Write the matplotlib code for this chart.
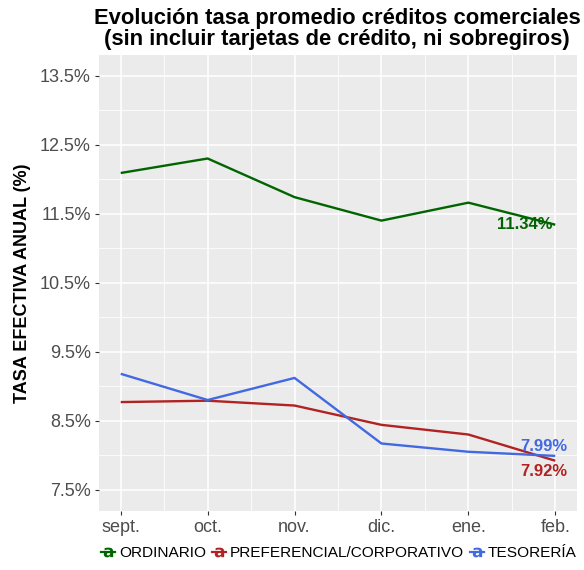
import matplotlib
matplotlib.use("Agg")
import matplotlib.pyplot as plt
from matplotlib.lines import Line2D
from matplotlib.ticker import FixedLocator

plt.rcParams['font.family'] = ['Liberation Sans', 'DejaVu Sans']

months = ["sept.", "oct.", "nov.", "dic.", "ene.", "feb."]
ordinario = [12.09, 12.30, 11.74, 11.40, 11.66, 11.34]
preferencial = [8.77, 8.79, 8.72, 8.44, 8.30, 7.92]
tesoreria = [9.18, 8.80, 9.12, 8.17, 8.05, 7.99]
series_names = ["ORDINARIO", "PREFERENCIAL/CORPORATIVO", "TESORERÍA"]
colors = ["#006400", "#B22222", "#4169E1"]
yticks = [7.5, 8.5, 9.5, 10.5, 11.5, 12.5, 13.5]

fig = plt.figure(figsize=(5.84, 5.70), dpi=100)
ax = fig.add_axes([99/584, 1-510.7/570, (577-99)/584, (510.7-55)/570])
ax.set_facecolor("#EBEBEB")
for s in ax.spines.values():
    s.set_visible(False)

x = list(range(len(months)))
data = [ordinario, preferencial, tesoreria]
for vals, c in zip(data, colors):
    ax.plot(x, vals, color=c, lw=1.7, solid_capstyle='butt', zorder=3)

ax.set_xlim(-0.25, 5.25)
ax.set_ylim(7.196, 13.80)
ax.set_xticks(x)
ax.set_xticklabels(months)
ax.set_yticks(yticks)
ax.set_yticklabels([f"{v:.1f}%" for v in yticks])
ax.xaxis.set_minor_locator(FixedLocator([i + 0.5 for i in range(-1, 6)]))
ax.yaxis.set_minor_locator(FixedLocator([v + 0.5 for v in [7.0] + yticks]))
ax.grid(which='major', color='white', lw=1.1, zorder=0)
ax.grid(which='minor', color='white', lw=0.55, zorder=0)
ax.set_axisbelow(True)
ax.tick_params(which='major', length=3, color='#333333', width=0.8,
               labelsize=13, labelcolor='#4D4D4D', pad=3)
ax.tick_params(which='minor', length=0)

ax.set_ylabel("TASA EFECTIVA ANUAL (%)", fontsize=13, fontweight='bold', labelpad=6)

# end labels
last = len(months) - 1
ax.annotate(f"{ordinario[-1]:.2f}%", (last, ordinario[-1]), xytext=(-2, 0),
            textcoords='offset points', ha='right', va='center',
            color=colors[0], fontsize=12, fontweight='bold', zorder=4)
ax.annotate(f"{tesoreria[-1]:.2f}%", (last, tesoreria[-1]), xytext=(9, 7),
            textcoords='offset points', ha='right', va='center',
            color=colors[2], fontsize=12, fontweight='bold', zorder=4)
ax.annotate(f"{preferencial[-1]:.2f}%", (last, preferencial[-1]), xytext=(9, -8),
            textcoords='offset points', ha='right', va='center',
            color=colors[1], fontsize=12, fontweight='bold', zorder=4)

fig.text(337/584, 1-8/570,
         "Evolución tasa promedio créditos comerciales\n(sin incluir tarjetas de crédito, ni sobregiros)",
         ha='center', va='top', fontsize=15.8, fontweight='bold', linespacing=1.0)

handles = [Line2D([0], [0], color=c, lw=1.6, marker=r'$\mathbf{a}$', markersize=7,
                  markeredgewidth=0) for c in colors]
fig.legend(handles, series_names, loc='center', bbox_to_anchor=(339/584, 1-553/570),
           ncol=3, frameon=False, fontsize=11.1, handlelength=0.9, handletextpad=0.25,
           columnspacing=0.4, borderpad=0)

fig.savefig("out.png", dpi=100)
